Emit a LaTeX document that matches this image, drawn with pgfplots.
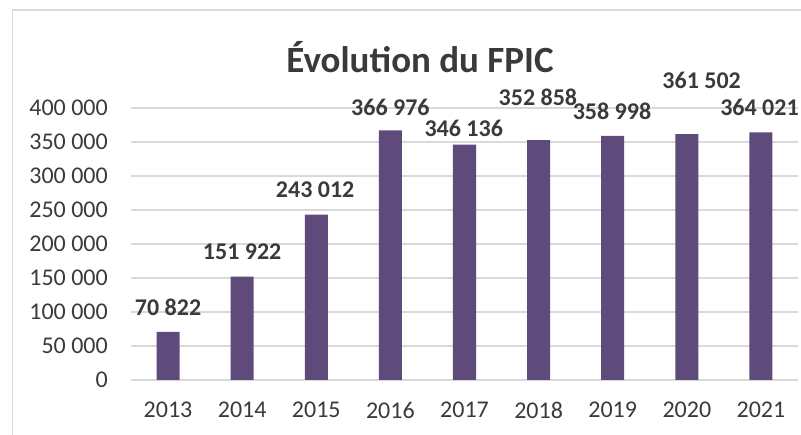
\documentclass[border=0pt]{standalone}
\usepackage{fontspec}
\setmainfont{Carlito}
\usepackage{pgfplots}
\pgfplotsset{compat=1.18}
\definecolor{barc}{HTML}{5F4B7B}
\definecolor{txt}{HTML}{3A3A3A}
\definecolor{grd}{HTML}{D9D9D9}

\begin{document}
\begin{tikzpicture}
\useasboundingbox (0pt,0pt) rectangle (801pt,435pt);
\draw[grd, line width=1.5pt] (12.5pt,0pt) -- (12.5pt,425pt) -- (801pt,425pt);
\node[txt, font=\fontsize{37}{37}\selectfont\bfseries] at (420pt,378pt) {Évolution du FPIC};
\begin{axis}[
  at={(131pt,55pt)}, anchor=south west,
  scale only axis, width=667pt, height=272pt,
  ybar, bar width=23pt,
  xmin=-0.5, xmax=8.5, ymin=0, ymax=400000,
  xtick={0,...,8},
  xticklabels={2013,2014,2015,2016,2017,2018,2019,2020,2021},
  ytick={0,50000,...,400000},
  yticklabels={0,50 000,100 000,150 000,200 000,250 000,300 000,350 000,400 000},
  scaled y ticks=false,
  axis x line=bottom, axis y line=left,
  y axis line style={draw=none},
  x axis line style={draw=grd, line width=1.3pt, -},
  major tick length=0pt,
  ymajorgrids, grid style={grd, line width=1.3pt},
  tick label style={txt, font=\fontsize{24}{24}\selectfont, inner sep=0pt},
  yticklabel style={anchor=east, xshift=-23pt},
  xticklabel style={anchor=center, yshift=-30pt},
  clip=false,
  /pgf/number format/assume math mode=true,
]
\addplot[fill=barc, draw=none] coordinates {
  (0,70822) (1,151922) (2,243012) (3,366976) (4,346136)
  (5,352858) (6,358998) (7,361502) (8,364021)};
\begin{scope}[every node/.style={txt, font=\fontsize{24}{24}\selectfont\bfseries, inner sep=0pt}]
\node at (axis cs:0,107400) {70 822};
\node at (axis cs:1,188200) {151 922};
\node at (axis cs:1.985,279400) {243 012};
\node at (axis cs:3,401500) {366 976};
\node at (axis cs:3.99,370600) {346 136};
\node at (axis cs:4.99,416200) {352 858};
\node at (axis cs:5.99,395600) {358 998};
\node at (axis cs:7.2,441200) {361 502};
\node at (axis cs:7.98,401500) {364 021};
\end{scope}
\end{axis}
\end{tikzpicture}
\end{document}
